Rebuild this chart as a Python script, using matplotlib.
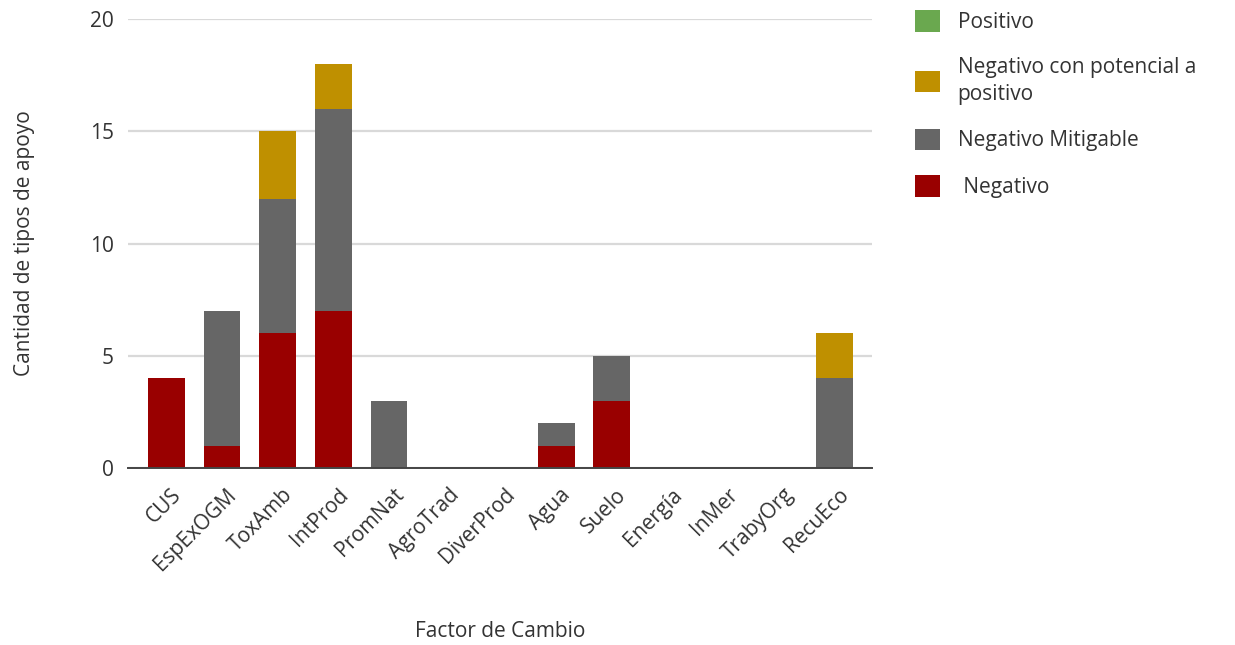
import matplotlib.pyplot as plt
import matplotlib.transforms as mtransforms
import numpy as np

plt.rcParams['font.family'] = ['Open Sans', 'DejaVu Sans']

categorias = ['CUS', 'EspExOGM', 'ToxAmb', 'IntProd', 'PromNat', 'AgroTrad', 'DiverProd',
              'Agua', 'Suelo', 'Energía', 'InMer', 'TrabyOrg', 'RecuEco']
negativo = [4, 1, 6, 7, 0, 0, 0, 1, 3, 0, 0, 0, 0]
mitigable = [0, 6, 6, 9, 3, 0, 0, 1, 2, 0, 0, 0, 4]
potencial = [0, 0, 3, 2, 0, 0, 0, 0, 0, 0, 0, 0, 2]
positivo = [0, 0, 0, 0, 0, 0, 0, 0, 0, 0, 0, 0, 0]

fig = plt.figure(figsize=(12.35, 6.45), dpi=100)
ax = fig.add_axes([0.1036, 0.2744, 0.6024, 0.696])

x = np.arange(len(categorias))
w = 0.66
neg = np.array(negativo)
mit = np.array(mitigable)
pot = np.array(potencial)
b1 = ax.bar(x, neg, w, color='#990000', zorder=3)
b2 = ax.bar(x, mit, w, bottom=neg, color='#666666', zorder=3)
b3 = ax.bar(x, pot, w, bottom=neg + mit, color='#bf9000', zorder=3)
b4 = ax.bar(x, positivo, w, bottom=neg + mit + pot, color='#6aa84f', zorder=3)

ax.set_ylim(0, 20)
ax.set_xlim(-0.69, 12.67)
ax.set_yticks([0, 5, 10, 15, 20])
ax.grid(axis='y', color='#d9d9d9', linewidth=1.6, zorder=0)
for s in ['top', 'right', 'left']:
    ax.spines[s].set_visible(False)
ax.spines['bottom'].set_color('#444444')
ax.spines['bottom'].set_linewidth(1.4)
ax.spines['bottom'].set_zorder(4)
ax.tick_params(axis='both', length=0, labelsize=15, colors='#333333', pad=6)
ax.tick_params(axis='y', pad=10)
ax.set_xticks(x)
ax.set_xticklabels(categorias, rotation=45, ha='right', rotation_mode='anchor')
# desplazar las etiquetas para que queden como en el original
desplaz = mtransforms.ScaledTranslation(0.04, -0.08, fig.dpi_scale_trans)
for lbl in ax.get_xticklabels():
    lbl.set_transform(lbl.get_transform() + desplaz)

ax.set_xlabel('Factor de Cambio', fontsize=15, color='#333333')
ax.set_ylabel('Cantidad de tipos de apoyo', fontsize=15, color='#333333')
ax.xaxis.set_label_coords(0.5, -0.34)
ax.yaxis.set_label_coords(-0.125, 0.5)

leg = fig.legend([b4, b3, b2, b1],
                 ['Positivo', 'Negativo con potencial a\npositivo', 'Negativo Mitigable', ' Negativo'],
                 loc='upper left', bbox_to_anchor=(0.7257, 1.013), frameon=False,
                 fontsize=15, handlelength=1.2, handleheight=1.2, handletextpad=0.85,
                 labelspacing=1.15, labelcolor='#333333')
for t in leg.get_texts():
    t.set_linespacing(1.35)

fig.savefig('out.png', dpi=100)
